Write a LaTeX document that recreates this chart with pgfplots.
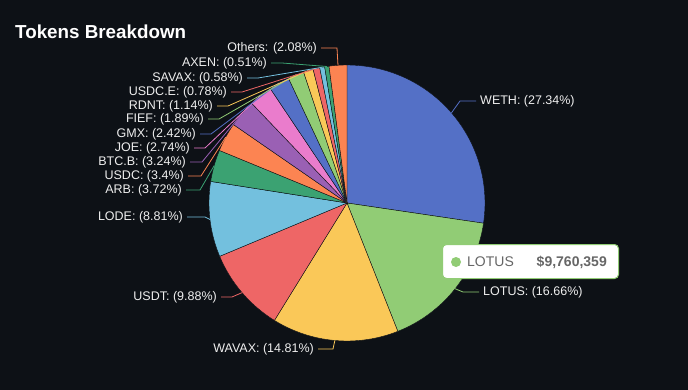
\documentclass[border=0pt]{standalone}
\usepackage{pgfplots}
\pgfplotsset{compat=1.18}
\usepackage{fontspec}
\setmainfont{Liberation Sans}
\definecolor{bgc}{HTML}{0D1116}
\definecolor{lblc}{HTML}{EEEEEE}
\definecolor{c1}{HTML}{5470C6}
\definecolor{c2}{HTML}{91CC75}
\definecolor{c3}{HTML}{FAC858}
\definecolor{c4}{HTML}{EE6666}
\definecolor{c5}{HTML}{73C0DE}
\definecolor{c6}{HTML}{3BA272}
\definecolor{c7}{HTML}{FC8452}
\definecolor{c8}{HTML}{9A60B4}
\definecolor{c9}{HTML}{EA7CCC}
\tikzset{lbl/.style={font=\fontsize{12.5}{14}\selectfont, text=lblc, inner sep=0pt}}
\gdef\cum{0}
% #1 value (%), #2 colour, #3 name, #4 anchor, #5 text x, #6 label y, #7 elbow x, #8 line end x
\newcommand{\slice}[8]{%
  \pgfmathsetmacro{\sa}{\cum*3.6}%
  \pgfmathsetmacro{\sb}{(\cum+#1)*3.6}%
  \pgfmathsetmacro{\sm}{(\cum+#1/2)*3.6}%
  \pgfmathsetmacro{\ex}{347+138*sin(\sm)}%
  \pgfmathsetmacro{\ey}{203-138*cos(\sm)}%
  \edef\doslice{%
    \noexpand\addplot[fill=#2, draw=bgc, line width=0.4pt, domain=\sa:\sb, samples=60, variable=\noexpand\t]
      ({347+138*sin(\noexpand\t)},{203-138*cos(\noexpand\t)}) -- (axis cs:347,203) -- cycle;
    \noexpand\draw[#2, line width=0.8pt] (axis cs:\ex,\ey) -- (axis cs:#7,#6) -- (axis cs:#8,#6);
    \noexpand\node[lbl, anchor=#4] at (axis cs:#5,#6) {#3: (#1\%)};
  }%
  \doslice
  \pgfmathsetmacro{\newcum}{\cum+#1}%
  \xdef\cum{\newcum}%
}
\begin{document}
\begin{tikzpicture}
\fill[bgc] (0,0) rectangle (688pt,390pt);
\begin{axis}[scale only axis, width=688pt, height=390pt,
  xmin=0, xmax=688, ymin=0, ymax=390, y dir=reverse,
  hide axis, clip=false]
\slice{27.34}{c1}{WETH}{west}{480}{101}{460}{476}
\slice{16.66}{c2}{LOTUS}{west}{483}{292}{463}{479}
\slice{14.81}{c3}{WAVAX}{east}{314}{349}{333}{318}
\slice{9.88}{c4}{USDT}{east}{217}{297}{232}{221}
\slice{8.81}{c5}{LODE}{east}{183}{217}{205}{187}
\slice{3.72}{c6}{ARB}{east}{182}{190}{200}{186}
\slice{3.4}{c7}{USDC}{east}{184}{176}{201}{188}
\slice{3.24}{c8}{BTC.B}{east}{186}{162}{202}{190}
\slice{2.74}{c9}{JOE}{east}{190}{148}{205}{194}
\slice{2.42}{c1}{GMX}{east}{196}{134}{211}{200}
\slice{1.89}{c2}{FIEF}{east}{204}{119}{219}{208}
\slice{1.14}{c3}{RDNT}{east}{213}{106}{228}{217}
\slice{0.78}{c4}{USDC.E}{east}{227}{92}{242}{231}
\slice{0.58}{c5}{SAVAX}{east}{243}{78}{258}{247}
\slice{0.51}{c6}{AXEN}{east}{267}{63}{282}{271}
\slice{2.08}{c7}{Others}{east}{317}{48}{337}{321}
% tooltip
\node[fill=white, draw=c2, line width=1pt, rounded corners=4pt, minimum width=176pt, minimum height=34pt, inner sep=0pt] at (axis cs:530.5,261.5) {};
\fill[c2] (axis cs:456,262) circle (5pt);
\node[anchor=west, inner sep=0pt, font=\fontsize{14}{16}\selectfont, text=black!60] at (axis cs:467,262) {LOTUS};
\node[anchor=east, inner sep=0pt, font=\fontsize{14}{16}\selectfont\bfseries, text=black!60] at (axis cs:607,262) {\$9,760,359};
% title
\node[anchor=west, inner sep=0pt, font=\fontsize{18.8}{21}\selectfont\bfseries, text=white] at (axis cs:15,32) {Tokens Breakdown};
\end{axis}
\end{tikzpicture}
\end{document}
